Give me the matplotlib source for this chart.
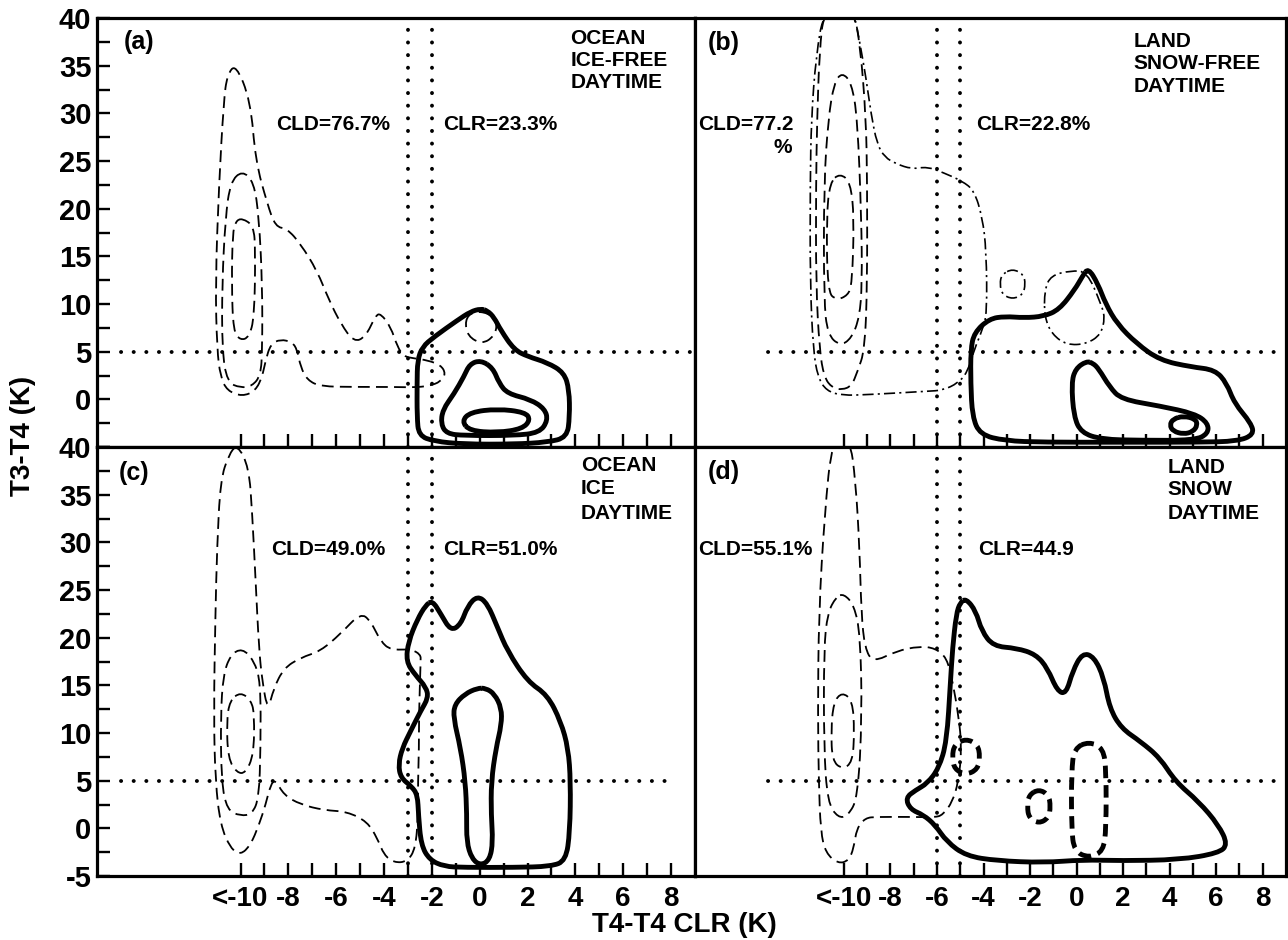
import matplotlib
matplotlib.use("Agg")
import matplotlib.pyplot as plt
import numpy as np
from matplotlib.path import Path
from matplotlib.patches import PathPatch

plt.rcParams['font.family'] = ['Liberation Sans', 'DejaVu Sans']
plt.rcParams['font.weight'] = 'bold'
plt.rcParams['lines.scale_dashes'] = False

# ---------------- data ----------------
X_TICKS = list(range(-10, 9))
X_TICK_LABELS = ['<-10' if v == -10 else (str(v) if v % 2 == 0 else '') for v in X_TICKS]
Y_TICKS = [-5, -2.5, 0, 2.5, 5, 7.5, 10, 12.5, 15, 17.5, 20, 22.5, 25, 27.5, 30, 32.5, 35, 37.5, 40]
Y_LABELS_UPPER = ['', '', '0', '', '5', '', '10', '', '15', '', '20', '', '25', '', '30', '', '35', '', '40']
Y_LABELS_LOWER = ['-5', '', '0', '', '5', '', '10', '', '15', '', '20', '', '25', '', '30', '', '35', '', '40']

PANEL_IDS = ['(a)', '(b)', '(c)', '(d)']
SURFACE = [['OCEAN', 'ICE-FREE', 'DAYTIME'], ['LAND', 'SNOW-FREE', 'DAYTIME'],
           ['OCEAN', 'ICE', 'DAYTIME'], ['LAND', 'SNOW', 'DAYTIME']]
CLD_TEXT = ['CLD=76.7%', 'CLD=77.2', 'CLD=49.0%', 'CLD=55.1%']
CLR_TEXT = ['CLR=23.3%', 'CLR=22.8%', 'CLR=51.0%', 'CLR=44.9']
THRESH_X = [(-3, -2), (-6, -5), (-3, -2), (-6, -5)]
THRESH_Y = 5
HLINE_SPAN = [(-15, 9), (-13.25, 9), (-15, 8.1), (-13.25, 9)]

# panel (a)
A_CLD1 = [(-10.2, 35.2), (-9.58, 31.3), (-9.37, 25.0), (-8.88, 20.5), (-8.54, 18.1), (-8.05, 17.9),
          (-7.49, 16.3), (-6.8, 13.5), (-6.3, 10.4), (-5.8, 7.9), (-5.26, 6.0), (-4.77, 6.55),
          (-4.35, 8.8), (-4.14, 9.0), (-3.72, 7.6), (-3.44, 5.5), (-3.17, 4.5), (-2.75, 4.3),
          (-2.19, 4.1), (-1.63, 3.6), (-1.42, 2.7), (-1.63, 1.85), (-2.12, 1.4), (-2.75, 1.25),
          (-3.58, 1.3), (-5.26, 1.3), (-6.65, 1.35), (-7.2, 2.0), (-7.49, 3.4), (-7.63, 5.2),
          (-7.84, 6.0), (-8.33, 6.3), (-8.74, 5.8), (-8.95, 4.1), (-9.09, 2.4), (-9.37, 0.9),
          (-9.93, 0.3), (-10.56, 0.9), (-10.84, 2.4), (-10.98, 5.2), (-11.05, 12.1), (-10.9, 22.6),
          (-10.7, 31.3), (-10.56, 34.0)]
A_CLD2 = [(-9.93, 24.0), (-9.44, 22.8), (-9.23, 19.1), (-9.09, 12.1), (-9.09, 5.2), (-9.16, 2.5),
          (-9.51, 1.4), (-10.0, 1.2), (-10.56, 1.8), (-10.77, 5.2), (-10.77, 12.1), (-10.63, 19.1),
          (-10.42, 22.8)]
A_CLD3 = [(-9.93, 19.0), (-9.45, 18.2), (-9.38, 15.6), (-9.42, 8.6), (-9.65, 6.5), (-10.0, 6.2),
          (-10.3, 7.1), (-10.37, 12.1), (-10.33, 17.4), (-10.2, 18.7)]
A_CLD4 = [(-0.62, 8.3), (-0.5, 6.6), (0.1, 5.8), (0.6, 6.6), (0.75, 8.0), (0.35, 9.1), (-0.3, 9.2)]
A_CLR1 = [(0.04, 9.5), (-0.38, 9.2), (-0.93, 8.3), (-1.91, 6.55), (-2.4, 5.5), (-2.6, 4.1),
          (-2.62, 1.7), (-2.62, -1.8), (-2.55, -3.8), (-1.91, -4.4), (-0.66, -4.7), (1.44, -4.7),
          (2.83, -4.5), (3.65, -4.0), (3.76, -1.8), (3.74, 1.0), (3.53, 2.8), (2.83, 3.85),
          (2.0, 4.5), (1.44, 5.2), (0.88, 7.25), (0.6, 8.6), (0.32, 9.3)]
A_CLR2 = [(0.04, 4.1), (-0.42, 3.7), (-0.66, 2.4), (-1.07, 0.6), (-1.55, -1.1), (-1.62, -2.6),
          (-1.38, -3.6), (-0.66, -3.8), (1.44, -3.8), (2.5, -3.5), (2.85, -2.2), (2.72, -1.0),
          (2.13, -0.02), (1.16, 0.6), (0.81, 1.7), (0.55, 3.3)]
A_CLR3 = [(-0.75, -2.3), (-0.4, -1.35), (0.74, -1.0), (1.9, -1.35), (2.12, -2.15), (1.78, -3.1),
          (0.74, -3.5), (-0.42, -3.3)]

# panel (b)
B_CLD0 = [(-10.85, 41.0), (-11.2, 36.0), (-11.4, 29.5), (-11.45, 22.6), (-11.45, 12.1), (-11.32, 5.2),
          (-11.12, 2.3), (-10.75, 0.9), (-10.1, 0.4), (-8.9, 0.5), (-6.4, 0.85), (-5.75, 0.95),
          (-5.1, 1.7), (-4.7, 2.8), (-4.4, 5.2), (-4.05, 7.3), (-3.85, 9.0), (-3.88, 15.6),
          (-4.05, 19.1), (-4.4, 21.9), (-4.92, 22.9), (-5.75, 23.8), (-6.42, 24.4), (-7.08, 24.15),
          (-7.75, 24.7), (-8.25, 25.4), (-8.58, 26.8), (-8.83, 29.9), (-9.05, 33.7), (-9.3, 37.2),
          (-9.6, 41.0)]
B_CLD1 = [(-10.85, 41.0), (-11.05, 36.5), (-11.15, 29.5), (-11.2, 22.6), (-11.2, 12.1), (-11.05, 5.2),
          (-10.85, 2.3), (-10.5, 1.2), (-10.08, 1.0), (-9.67, 1.4), (-9.42, 2.9), (-9.1, 5.2),
          (-9.0, 12.1), (-9.0, 22.6), (-9.05, 29.5), (-9.3, 37.2), (-9.6, 41.0)]
B_CLD2 = [(-10.08, 34.3), (-9.67, 33.2), (-9.42, 29.5), (-9.25, 19.1), (-9.22, 12.1), (-9.33, 8.6),
          (-9.67, 6.4), (-10.17, 5.6), (-10.7, 6.8), (-10.86, 10.4), (-10.86, 22.6), (-10.67, 29.5),
          (-10.42, 33.2)]
B_CLD3 = [(-10.17, 23.7), (-9.72, 22.8), (-9.56, 19.1), (-9.65, 12.1), (-9.83, 10.9), (-10.33, 10.4),
          (-10.7, 11.3), (-10.75, 19.1), (-10.6, 22.8)]
B_CLD4 = [(-2.75, 13.7), (-2.28, 13.1), (-2.2, 12.1), (-2.3, 11.0), (-2.75, 10.5), (-3.2, 11.0),
          (-3.3, 12.1), (-3.22, 13.1)]
B_CLD5 = [(-1.38, 11.5), (-1.1, 13.0), (-0.25, 13.5), (0.45, 13.4), (1.05, 10.0), (1.22, 8.6),
          (1.05, 6.8), (0.42, 5.8), (-0.42, 5.7), (-1.05, 6.8), (-1.38, 8.6)]
B_CLR1 = [(0.5, 13.8), (0.92, 12.1), (1.25, 10.0), (1.75, 7.9), (2.58, 5.85), (3.58, 4.1),
          (4.92, 3.4), (5.95, 3.1), (6.45, 1.7), (6.78, -0.4), (7.5, -2.5), (7.62, -3.7),
          (6.92, -4.4), (5.25, -4.5), (1.92, -4.5), (-1.42, -4.5), (-3.08, -4.35), (-4.15, -3.7),
          (-4.48, -1.8), (-4.55, 1.7), (-4.55, 5.2), (-4.4, 7.0), (-3.75, 8.45), (-3.08, 8.7),
          (-2.25, 8.55), (-1.42, 8.7), (-0.75, 9.4), (-0.08, 11.5), (0.25, 12.9)]
B_CLR2 = [(0.42, 4.0), (-0.05, 3.2), (-0.22, 1.7), (-0.12, -1.8), (0.2, -3.5), (1.08, -4.2),
          (2.75, -4.3), (5.08, -4.3), (5.65, -3.6), (5.65, -2.5), (5.08, -1.5), (3.58, -0.7),
          (1.92, -0.0), (1.42, 1.3), (0.95, 3.2), (0.7, 3.8)]
B_CLR3 = [(4.6, -1.75), (5.1, -2.05), (5.2, -2.7), (5.0, -3.4), (4.6, -3.65), (4.15, -3.35),
          (4.0, -2.7), (4.15, -2.05)]

# panel (c)
C_CLD1 = [(-10.14, 40.3), (-9.65, 37.9), (-9.51, 33.0), (-9.37, 26.0), (-9.23, 18.9), (-9.09, 15.4),
          (-8.86, 12.3), (-8.61, 14.7), (-8.19, 16.8), (-7.49, 17.9), (-6.65, 18.6), (-5.82, 20.4),
          (-4.98, 22.6), (-4.56, 21.75), (-4.14, 19.6), (-3.72, 18.7), (-2.89, 18.8), (-2.47, 18.25),
          (-2.47, 17.5), (-2.54, 11.9), (-2.54, 8.4), (-2.58, 4.9), (-2.58, 1.4), (-2.68, -2.1),
          (-3.03, -3.5), (-3.58, -3.6), (-4.0, -2.8), (-4.28, -1.05), (-4.7, 0.7), (-5.54, 1.75),
          (-6.51, 1.9), (-7.49, 2.5), (-8.19, 3.5), (-8.54, 5.1), (-8.74, 4.6), (-8.95, 2.5),
          (-9.23, 0.35), (-9.58, -1.75), (-10.0, -2.8), (-10.42, -2.1), (-10.84, 0.35),
          (-11.05, 4.9), (-11.12, 11.9), (-11.05, 22.5), (-10.98, 29.5), (-10.84, 36.5),
          (-10.49, 39.2)]
C_CLD2 = [(-9.93, 18.9), (-9.44, 17.6), (-9.16, 15.4), (-9.16, 8.4), (-9.23, 3.2), (-9.51, 1.5),
          (-10.0, 1.3), (-10.56, 1.9), (-10.8, 4.9), (-10.83, 11.9), (-10.72, 16.1), (-10.42, 18.2)]
C_CLD3 = [(-10.0, 14.3), (-9.55, 13.4), (-9.42, 11.9), (-9.45, 7.7), (-9.79, 5.8), (-10.14, 5.8),
          (-10.52, 7.3), (-10.58, 11.2), (-10.45, 13.4)]
C_CLR1 = [(-1.98, 23.9), (-1.63, 22.5), (-1.21, 20.7), (-0.79, 21.4), (-0.51, 23.3), (-0.1, 24.4),
          (0.32, 23.6), (0.74, 21.1), (1.16, 18.6), (2.0, 15.4), (2.83, 14.0), (3.39, 11.2),
          (3.7, 8.4), (3.8, 4.9), (3.77, -0.35), (3.6, -3.4), (2.97, -4.0), (1.44, -4.1),
          (-0.66, -4.1), (-1.49, -4.0), (-2.1, -3.3), (-2.45, -1.75), (-2.56, 1.4), (-2.6, 3.5),
          (-2.85, 4.4), (-3.3, 5.3), (-3.4, 6.7), (-3.24, 8.4), (-2.89, 10.2), (-2.47, 12.3),
          (-2.15, 13.7), (-2.24, 14.8), (-2.7, 16.1), (-3.08, 17.5), (-2.98, 19.6), (-2.61, 21.9),
          (-2.26, 23.4)]
C_CLR2 = [(-0.1, 14.7), (-0.62, 14.1), (-1.05, 13.0), (-1.1, 11.6), (-0.8, 8.4), (-0.6, 4.9),
          (-0.54, 1.4), (-0.55, -1.4), (-0.33, -3.2), (0.04, -3.9), (0.42, -3.3), (0.55, -1.4),
          (0.48, 1.4), (0.48, 4.9), (0.68, 8.4), (0.91, 10.9), (0.91, 12.6), (0.62, 14.1),
          (0.25, 14.7)]

# panel (d)
D_CLD1 = [(-10.5, 41.0), (-10.83, 33.0), (-11.08, 22.5), (-11.12, 11.9), (-11.08, 4.9), (-11.0, -0.35),
          (-10.78, -2.6), (-10.25, -3.7), (-9.8, -3.4), (-9.58, -2.1), (-9.45, 0.0), (-9.08, 1.1),
          (-8.58, 1.2), (-7.08, 1.2), (-6.1, 1.15), (-5.75, 1.4), (-5.33, 2.8), (-5.08, 4.9),
          (-4.93, 8.4), (-5.08, 11.9), (-5.33, 15.4), (-5.58, 17.9), (-6.08, 18.9), (-6.75, 19.1),
          (-7.75, 18.6), (-8.75, 17.4), (-9.1, 18.9), (-9.25, 22.5), (-9.33, 29.5), (-9.5, 36.5),
          (-9.75, 41.0)]
D_CLD2 = [(-10.0, 24.6), (-9.56, 23.4), (-9.3, 20.35), (-9.22, 11.9), (-9.4, 3.2), (-9.83, 1.3),
          (-10.25, 1.1), (-10.7, 2.7), (-10.86, 8.4), (-10.86, 18.9), (-10.7, 22.6), (-10.33, 24.3)]
D_CLD3 = [(-10.08, 14.3), (-9.63, 13.4), (-9.55, 10.2), (-9.63, 6.9), (-10.08, 6.2), (-10.5, 7.1),
          (-10.55, 10.2), (-10.45, 13.2)]
D_CLR1 = [(-4.75, 24.1), (-4.33, 22.8), (-4.08, 20.7), (-3.58, 19.1), (-2.58, 18.9), (-1.75, 18.25),
          (-1.25, 16.8), (-0.83, 14.4), (-0.45, 14.1), (-0.17, 16.5), (0.25, 18.4), (0.75, 18.0),
          (1.17, 15.8), (1.42, 12.6), (1.92, 10.5), (2.75, 9.1), (3.58, 7.4), (4.25, 4.9),
          (5.25, 2.8), (6.1, 0.35), (6.5, -1.7), (6.1, -2.6), (4.42, -3.3), (1.92, -3.4),
          (0.25, -3.3), (-1.42, -3.6), (-3.42, -3.4), (-4.75, -2.9), (-5.58, -1.4), (-6.08, 0.35),
          (-6.58, 1.4), (-7.15, 2.0), (-7.35, 3.2), (-6.92, 4.0), (-6.42, 4.7), (-5.92, 6.3),
          (-5.58, 9.1), (-5.42, 15.4), (-5.33, 18.9), (-5.17, 22.5), (-5.0, 23.7)]
D_CLR2 = [(-4.75, 9.4), (-4.25, 8.8), (-4.15, 7.5), (-4.25, 6.2), (-4.75, 5.6), (-5.25, 6.2),
          (-5.35, 7.5), (-5.25, 8.8)]
D_CLR3 = [(-1.62, 4.1), (-1.2, 3.5), (-1.12, 2.3), (-1.2, 1.1), (-1.62, 0.5), (-2.05, 1.1),
          (-2.12, 2.3), (-2.05, 3.5)]
D_CLR4 = [(0.53, 9.1), (1.15, 8.4), (1.27, 6.0), (1.27, 0.0), (1.15, -2.4), (0.53, -3.1),
          (-0.1, -2.4), (-0.22, 0.0), (-0.22, 6.0), (-0.1, 8.4)]

# ---------------- styles ----------------
THIN_DASH = dict(lw=1.3, ls=(0, (8.5, 4.5)))
DASH_DOT = dict(lw=1.2, ls=(0, (8, 3, 1.5, 3)))
THICK = dict(lw=3.5, ls='-')
THICK_DASH = dict(lw=3.5, ls=(0, (9, 5)))

CONTOURS = [
    [(A_CLD1, THIN_DASH), (A_CLD2, THIN_DASH), (A_CLD3, THIN_DASH), (A_CLD4, THIN_DASH),
     (A_CLR1, THICK), (A_CLR2, THICK), (A_CLR3, THICK)],
    [(B_CLD0, DASH_DOT), (B_CLD1, THIN_DASH), (B_CLD2, THIN_DASH), (B_CLD3, THIN_DASH),
     (B_CLD4, DASH_DOT), (B_CLD5, DASH_DOT), (B_CLR1, THICK), (B_CLR2, THICK), (B_CLR3, THICK)],
    [(C_CLD1, THIN_DASH), (C_CLD2, THIN_DASH), (C_CLD3, THIN_DASH), (C_CLR1, THICK), (C_CLR2, THICK)],
    [(D_CLD1, THIN_DASH), (D_CLD2, THIN_DASH), (D_CLD3, THIN_DASH), (D_CLR1, THICK),
     (D_CLR2, THICK_DASH), (D_CLR3, THICK_DASH), (D_CLR4, THICK_DASH)],
]

# text positions (data coords)
ID_POS = [(-14.9, 37.5), (-15.85, 37.4), (-15.1, 37.3), (-15.85, 37.35)]
CLD_POS = [(-8.5, 28.8), (-16.25, 28.8), (-8.74, 29.2), (-16.25, 29.2)]
CLR_POS = [(-1.55, 28.8), (-4.33, 28.8), (-1.55, 29.2), (-4.25, 29.2)]
SURF_POS = [(3.8, [37.9, 35.5, 33.2]), (2.45, [37.5, 35.2, 32.8]),
            (4.23, [38.1, 35.6, 33.0]), (3.92, [37.9, 35.5, 33.0])]


def smooth_path(pts):
    p = np.asarray(pts, dtype=float)
    mids = (p + np.roll(p, -1, axis=0)) / 2.0
    verts = [mids[-1]]
    codes = [Path.MOVETO]
    for i in range(len(p)):
        verts.append(p[i]); codes.append(Path.CURVE3)
        verts.append(mids[i]); codes.append(Path.CURVE3)
    return Path(np.array(verts), codes)


W, H = 1288, 940
fig = plt.figure(figsize=(W / 100, H / 100), dpi=100)
left_l, left_r, right_r = 97, 695, 1286
top_u, mid, bot = 18, 447, 876
rects = [
    (left_l / W, 1 - mid / H, (left_r - left_l) / W, (mid - top_u) / H),
    (left_r / W, 1 - mid / H, (right_r - left_r) / W, (mid - top_u) / H),
    (left_l / W, 1 - bot / H, (left_r - left_l) / W, (bot - mid) / H),
    (left_r / W, 1 - bot / H, (right_r - left_r) / W, (bot - mid) / H),
]
XLIMS = [(-16, 9), (-16.4, 9), (-16, 9), (-16.4, 9)]

TXT = 15
for k in range(4):
    ax = fig.add_axes(rects[k])
    ax.set_xlim(*XLIMS[k])
    ax.set_ylim(-5, 40)
    for s in ax.spines.values():
        s.set_linewidth(2.3)
    ax.set_xticks(X_TICKS)
    if k >= 2:
        ax.set_xticklabels(X_TICK_LABELS, fontsize=20)
    else:
        ax.set_xticklabels([])
    ax.tick_params(axis='x', direction='in', length=9.5, width=1.7, pad=7, top=False)
    if k in (0, 2):
        ax.set_yticks(Y_TICKS)
        ax.set_yticklabels(Y_LABELS_UPPER if k == 0 else Y_LABELS_LOWER, fontsize=21)
        ax.tick_params(axis='y', direction='in', length=9.5, width=1.7, pad=4, right=False)
    else:
        ax.set_yticks([])

    # threshold dotted lines
    dot = dict(color='k', lw=2.8, ls=(0, (0.1, 9)), dash_capstyle='round')
    for xv in THRESH_X[k]:
        ax.axvline(xv, **dot)
    ax.plot(list(HLINE_SPAN[k]), [THRESH_Y, THRESH_Y], **dot)

    for pts, st in CONTOURS[k]:
        patch = PathPatch(smooth_path(pts), fill=False, edgecolor='k',
                          linewidth=st['lw'], linestyle=st['ls'], capstyle='butt', joinstyle='round')
        ax.add_patch(patch)

    ax.text(*ID_POS[k], PANEL_IDS[k], fontsize=18, ha='left', va='center')
    ax.text(*CLD_POS[k], CLD_TEXT[k], fontsize=TXT, ha='left', va='center')
    ax.text(*CLR_POS[k], CLR_TEXT[k], fontsize=TXT, ha='left', va='center')
    sx, sys_ = SURF_POS[k]
    for line, yy in zip(SURFACE[k], sys_):
        ax.text(sx, yy, line, fontsize=TXT, ha='left', va='center')
    if k == 1:
        ax.text(-12.65, 26.4, '%', fontsize=TXT, ha='center', va='center')

fig.text(0.531, 0.016, 'T4-T4 CLR (K)', fontsize=20, ha='center', va='center')
fig.text(0.018, 0.536, 'T3-T4 (K)', fontsize=20, ha='center', va='center', rotation=90)

fig.savefig('out.png', dpi=100)
